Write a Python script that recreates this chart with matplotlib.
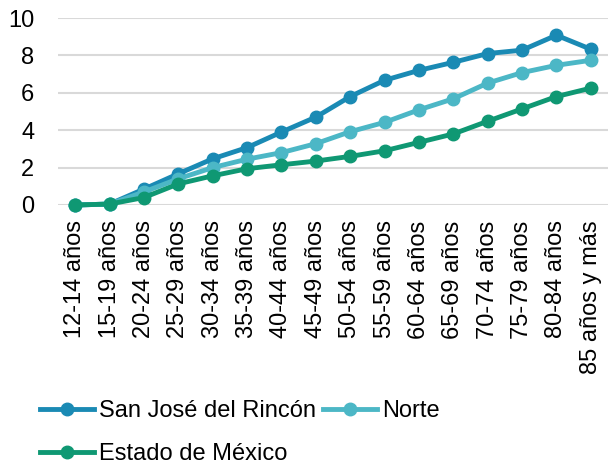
import matplotlib
matplotlib.use("Agg")
import matplotlib.pyplot as plt

plt.rcParams['font.family'] = ['Liberation Sans', 'DejaVu Sans']

# age groups and series values
categorias = ['12-14 años', '15-19 años', '20-24 años', '25-29 años', '30-34 años',
              '35-39 años', '40-44 años', '45-49 años', '50-54 años', '55-59 años',
              '60-64 años', '65-69 años', '70-74 años', '75-79 años', '80-84 años',
              '85 años y más']
san_jose = [0.0, 0.05, 0.85, 1.67, 2.47, 3.07, 3.9, 4.7, 5.8, 6.67,
            7.2, 7.63, 8.1, 8.28, 9.08, 8.33]
norte = [0.0, 0.05, 0.7, 1.4, 2.0, 2.45, 2.8, 3.28, 3.92, 4.42,
         5.09, 5.68, 6.52, 7.08, 7.47, 7.74]
edomex = [0.0, 0.05, 0.4, 1.13, 1.56, 1.94, 2.15, 2.35, 2.6, 2.9,
          3.35, 3.8, 4.48, 5.14, 5.8, 6.25]

fig = plt.figure(figsize=(6.08, 4.69), dpi=100)
ax = fig.add_axes([0.0954, 0.5629, 0.9046, 0.3987])

x = range(len(categorias))
l1, = ax.plot(x, san_jose, color='#1A8AB4', lw=3.5, marker='o', ms=9, label='San José del Rincón', clip_on=False, zorder=3)
l2, = ax.plot(x, norte, color='#4CB7C6', lw=3.5, marker='o', ms=9, label='Norte', clip_on=False, zorder=4)
l3, = ax.plot(x, edomex, color='#0F9873', lw=3.5, marker='o', ms=9, label='Estado de México', clip_on=False, zorder=5)

ax.set_xlim(-0.5, len(categorias) - 0.5)
ax.set_ylim(0, 10)
ax.set_yticks([0, 2, 4, 6, 8, 10])
ax.grid(axis='y', color='#D9D9D9', lw=1.5)
ax.set_axisbelow(True)
for s in ax.spines.values():
    s.set_visible(False)
ax.set_xticks(list(x))
ax.set_xticklabels(categorias, rotation=90)
ax.tick_params(axis='both', length=0, labelsize=17, colors='black')
ax.tick_params(axis='x', pad=11)
ax.tick_params(axis='y', pad=17)

# legend is filled column by column, so order gives rows: SJ, Norte / Edomex
fig.legend([l1, l3, l2], ['San José del Rincón', 'Estado de México', 'Norte'],
           loc='upper left', bbox_to_anchor=(40 / 608, 1 - 400 / 469), ncol=2, frameon=False,
           fontsize=17, handlelength=2.3, handletextpad=0.2, columnspacing=0.3,
           labelspacing=0.9, borderpad=0, borderaxespad=0)

fig.savefig('out.png', dpi=100)
